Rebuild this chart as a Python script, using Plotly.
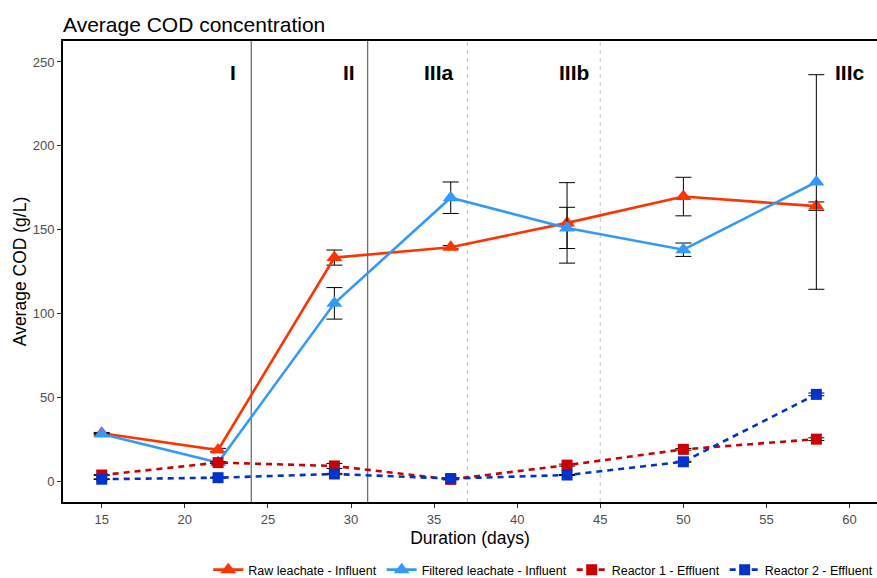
import plotly.graph_objects as go

days = [15, 22, 29, 36, 43, 50, 58]

raw_mean = [28.5, 18.5, 133.3, 139.5, 154, 169.7, 164]
raw_err = [0.5, 1.0, 4.5, 1.0, 24, 11.5, 2.5]

filt_mean = [28, 11, 106, 169, 151, 138, 178.4]
filt_err = [0.5, 0.5, 9.4, 9.4, 12.3, 4, 64]

r1_mean = [3.6, 11, 9, 1, 9.5, 18.9, 25]
r1_err = [0.2, 0.5, 1.5, 0.3, 0.6, 0.5, 0.8]

r2_mean = [1.1, 2.0, 4.2, 1.5, 3.6, 11.5, 51.7]
r2_err = [0.2, 0.3, 0.4, 0.3, 0.3, 0.3, 0.8]

phase_solid = [24, 31]
phase_dashed = [37, 45]
phase_labels = ["I", "II", "IIIa", "IIIb", "IIIc"]
phase_label_x = [22.9, 29.9, 35.3, 43.4, 60.0]
phase_label_y = 243.5

FONT = "Liberation Sans, Arial, sans-serif"

fig = go.Figure()

def add_series(name, y, err, color, symbol, dash, msize):
    fig.add_trace(go.Scatter(
        x=days, y=y, name=name, mode="lines+markers",
        line=dict(color=color, width=2.6, dash=dash),
        marker=dict(symbol=symbol, size=msize, color=color),
        error_y=dict(type="data", array=err, visible=True,
                     color="black", thickness=1, width=8),
    ))

add_series("Raw leachate - Influent", raw_mean, raw_err, "#FF3300", "triangle-up", "solid", 14)
add_series("Filtered leachate - Influent", filt_mean, filt_err, "#3399FF", "triangle-up", "solid", 14)
add_series("Reactor 1 - Effluent", r1_mean, r1_err, "#CC0000", "square", "6px,5px", 11)
add_series("Reactor 2 - Effluent", r2_mean, r2_err, "#0033CC", "square", "6px,5px", 11)

for xv in phase_solid:
    fig.add_vline(x=xv, line=dict(color="#707070", width=1.3), layer="below")
for xv in phase_dashed:
    fig.add_vline(x=xv, line=dict(color="#CCCCCC", width=1.2, dash="4px,4px"), layer="below")

for t, xv in zip(phase_labels, phase_label_x):
    fig.add_annotation(x=xv, y=phase_label_y, text="<b>%s</b>" % t, showarrow=False,
                       font=dict(size=21, color="black", family=FONT),
                       xanchor="center", yanchor="middle")

fig.update_layout(
    width=877, height=578,
    margin=dict(l=63, r=0, t=41, b=76, autoexpand=False),
    paper_bgcolor="white", plot_bgcolor="white",
    font=dict(family=FONT),
    title=dict(text="Average COD concentration", x=0, xref="paper", xanchor="left",
               y=1 - 25/578, yanchor="middle",
               font=dict(size=21, color="black", family=FONT)),
    showlegend=True,
    legend=dict(orientation="h", x=0.59, xanchor="center",
                yref="container", y=(578 - 570) / 578, yanchor="middle",
                font=dict(size=12.5, color="black"), bgcolor="rgba(0,0,0,0)",
                itemwidth=30, tracegroupgap=0),
)

fig.update_xaxes(
    range=[12.67, 61.65], tickvals=[15, 20, 25, 30, 35, 40, 45, 50, 55, 60],
    showgrid=False, zeroline=False, showline=True, linecolor="black", linewidth=2,
    mirror=True, ticks="outside", ticklen=4, tickcolor="#333333",
    tickfont=dict(size=13, color="#4D4D4D"),
    title=dict(text="Duration (days)", font=dict(size=17.5, color="black"), standoff=6),
)
fig.update_yaxes(
    range=[-12.5, 262.5], tickvals=[0, 50, 100, 150, 200, 250],
    showgrid=False, zeroline=False, showline=True, linecolor="black", linewidth=2,
    mirror=True, ticks="outside", ticklen=4, tickcolor="#333333",
    tickfont=dict(size=13, color="#4D4D4D"),
    title=dict(text="Average COD (g/L)", font=dict(size=17.5, color="black"), standoff=2),
)

fig.write_html("out.html")
